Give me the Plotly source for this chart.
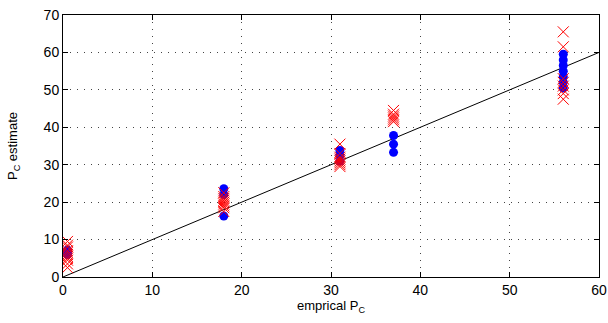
import plotly.graph_objects as go

# empirical P_C for each point
red_x = [0.5]*11 + [18]*9 + [31]*8 + [37]*6 + [56]*8
red_y = [2.5, 3.5, 4.5, 5, 5.5, 6, 6.5, 7, 8, 8.5, 9.5,
         17.5, 18.5, 19, 19.5, 20, 20.5, 21, 21.5, 22.5,
         29.5, 30, 30.5, 31, 31.5, 32, 33, 35.5,
         41.5, 42, 42.5, 43, 43.5, 44.5,
         47.5, 49, 50, 51, 52, 53, 61.5, 65.5]
blue_x = [0.5]*3 + [18]*3 + [31]*3 + [37]*3 + [56]*7
blue_y = [6, 6.7, 7.2,
          16.3, 22, 23.6,
          31, 32.5, 33.8,
          33.3, 35.5, 37.8,
          50.5, 52, 53.5, 55, 56.5, 58, 59.5]
line_x = [0, 60]
line_y = [0, 60]
x_ticks = [0, 10, 20, 30, 40, 50, 60]
y_ticks = [0, 10, 20, 30, 40, 50, 60, 70]
x_title = "emprical P<sub>C</sub>"
y_title = "P<sub>C</sub> estimate"

fig = go.Figure()
fig.add_trace(go.Scatter(x=line_x, y=line_y, mode="lines",
                         line=dict(color="black", width=1), showlegend=False))
fig.add_trace(go.Scatter(x=blue_x, y=blue_y, mode="markers",
                         marker=dict(symbol="circle", size=9, color="blue",
                                     line=dict(width=0)),
                         showlegend=False))
fig.add_trace(go.Scatter(x=red_x, y=red_y, mode="markers",
                         marker=dict(symbol="x-thin-open", size=11, color="red",
                                     line=dict(color="red", width=1)),
                         showlegend=False))

axis_common = dict(showline=True, linecolor="black", linewidth=1, mirror="allticks",
                   ticks="inside", ticklen=5, tickcolor="black",
                   showgrid=True, gridcolor="#444", griddash="1px,6px", gridwidth=1,
                   zeroline=False, automargin=False,
                   tickfont=dict(size=14, color="black"))

fig.update_layout(
    width=608, height=323,
    margin=dict(l=63, r=9, t=15, b=46),
    paper_bgcolor="white", plot_bgcolor="white",
    font=dict(family="Liberation Sans, Arial, sans-serif", color="black"),
    xaxis=dict(range=[0, 60], tickvals=x_ticks, **axis_common),
    yaxis=dict(range=[0, 70], tickvals=y_ticks, **axis_common),
    annotations=[
        dict(text=x_title, xref="paper", yref="paper", x=0.5, y=0,
             xanchor="center", yanchor="top", yshift=-19, showarrow=False,
             font=dict(size=13)),
        dict(text=y_title, xref="paper", yref="paper", x=0, y=0.5,
             xanchor="center", yanchor="middle", xshift=-50, textangle=-90,
             showarrow=False, font=dict(size=13)),
    ],
)
fig.write_html("out.html", config={"displayModeBar": False},
               post_script="document.body.style.margin='0';document.body.style.padding='0';")
